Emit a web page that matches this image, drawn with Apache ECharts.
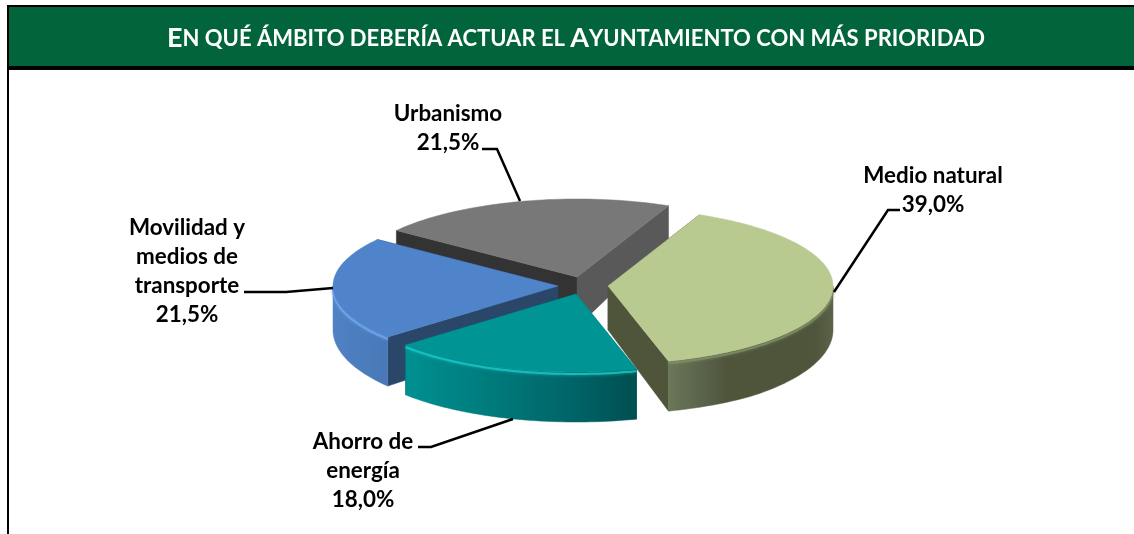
<!DOCTYPE html>
<html><head><meta charset="utf-8">
<style>html,body{margin:0;padding:0;background:#fff}#c{width:1134px;height:534px}</style>
<script src="https://cdn.jsdelivr.net/npm/echarts@6/dist/echarts.min.js"></script>
</head><body><div id="c"></div>
<script>
// Data
const categories = ['Medio natural', 'Ahorro de\nenergía', 'Movilidad y\nmedios de\ntransporte', 'Urbanismo'];
const shares = [39.0, 18.0, 21.5, 21.5];
const titleHead = 'E', titleRest1 = 'N QUÉ ÁMBITO DEBERÍA ACTUAR EL ', titleHead2 = 'A', titleRest2 = 'YUNTAMIENTO CON MÁS PRIORIDAD';

// Layout and style (not data)
const FONT = 'Lato, Carlito, "Open Sans", sans-serif';
const START = 24, RX = 225, RY = 78;
const apexes = [[608, 286], [576, 294], [558, 286], [577, 277]];
const drawOrder = [2, 3, 1, 0];
const depthA = [[36, .1], [36, .1], [36, .1], [34, .229]];
const topCols = ['#b9ca91', '#009494', '#4f84cb', '#787878'];
const wallGrad = [
  [[0, '#6b7757'], [.22, '#59624a'], [.35, '#4e553b'], [.88, '#4e553b'], [1, '#5a6248']],
  [[0, '#009090'], [.4, '#00797a'], [.75, '#006266'], [1, '#004f50']],
  [[0, '#4f82c4'], [1, '#4878b6']],
  [[0, '#595959'], [1, '#595959']]
];
const faceCols = [['#4e553b', '#4e553b'], ['#00797a', '#004f50'], ['#2a4669', '#2a4669'], ['#333333', '#595959']];
const glow = ['#7f8c64', '#19c4c4', '#6fa6ee', '#787878'];
const labelPos = [[933, 175], [363, 441], [187, 227], [448, 113]];
const leaders = [
  [[900, 210], [888, 210], [834, 292]],
  [[418, 447], [431, 447], [513, 419]],
  [[244, 292], [286, 292], [333, 288]],
  [[482, 149], [497, 149], [520, 201]]
];
const rad = d => d * Math.PI / 180;
const fmt = v => v.toFixed(1).replace('.', ',') + '%';

function sliceAngles(i) {
  const total = shares.reduce((a, b) => a + b, 0);
  let s = START;
  for (let k = 0; k < i; k++) s += shares[k] / total * 360;
  return [s, s + shares[i] / total * 360];
}
function rim(c, a) { return [c[0] + RX * Math.sin(rad(a)), c[1] - RY * Math.cos(rad(a))]; }
function arc(c, a, b) {
  const out = [], n = Math.max(2, Math.ceil(Math.abs(b - a) / 1.5));
  for (let k = 0; k <= n; k++) out.push(rim(c, a + (b - a) * k / n));
  return out;
}
function renderSlice(params, api) {
  const i = params.dataIndex;
  const [a0, a1] = sliceAngles(i);
  const c = apexes[i], z = drawOrder[i] * 10;
  const d = y => Math.min(50, depthA[i][0] + depthA[i][1] * (y - 206));
  const drop = p => [p[0], p[1] + d(p[1])];
  const kids = [];
  const poly = (points, fill, k) => kids.push({
    type: 'polygon', silent: true, z2: z + k, shape: { points },
    style: { fill, stroke: fill, lineWidth: .5 }
  });
  // Radial faces
  const pA = rim(c, a0), pB = rim(c, a1);
  poly([c, pA, drop(pA), drop(c)], faceCols[i][0], 1);
  poly([c, pB, drop(pB), drop(c)], faceCols[i][1], 1);
  // Outer wall: the part of the rim on the near side
  const f0 = Math.max(a0, 90), f1 = Math.min(a1, 270);
  if (f1 > f0) {
    const top = arc(c, f0, f1);
    const stops = wallGrad[i].map(s => ({ offset: s[0], color: s[1] }));
    const grad = new echarts.graphic.LinearGradient(0, 0, 1, 0, stops);
    poly(top.concat(top.map(drop).reverse()), grad, 2);
    kids.push({
      type: 'polyline', silent: true, z2: z + 3,
      shape: { points: top.map(p => [p[0], p[1] + 2]) },
      style: { fill: null, stroke: glow[i], lineWidth: 2, shadowBlur: 3, shadowColor: glow[i], opacity: .85 }
    });
  }
  // Top surface
  poly([c].concat(arc(c, a0, a1)), topCols[i], 4);
  // Leader line and label
  kids.push({
    type: 'polyline', silent: true, z2: 90,
    shape: { points: leaders[i] },
    style: { fill: null, stroke: '#000', lineWidth: 2.5 }
  });
  kids.push({
    type: 'text', silent: true, z2: 95, x: labelPos[i][0], y: labelPos[i][1] - 14,
    style: {
      text: categories[i] + '\n' + fmt(api.value(0)), fill: '#000', align: 'center', verticalAlign: 'top',
      font: 'bold 22.4px ' + FONT, lineHeight: 29
    }
  });
  return { type: 'group', children: kids };
}

const chart = echarts.init(document.getElementById('c'), null, { renderer: 'canvas' });
chart.setOption({
  animation: false,
  backgroundColor: '#ffffff',
  graphic: [
    { type: 'rect', silent: true, z: 1, shape: { x: 7, y: 5, width: 1127, height: 65 }, style: { fill: '#000' } },
    { type: 'rect', silent: true, z: 2, shape: { x: 9, y: 7, width: 1125, height: 59 }, style: { fill: '#02643a' } },
    { type: 'rect', silent: true, z: 1, shape: { x: 7, y: 68, width: 2, height: 466 }, style: { fill: '#000' } }
  ],
  title: {
    text: `{a|${titleHead}}{b|${titleRest1}}{a|${titleHead2}}{b|${titleRest2}}`,
    left: 571, top: 20, textAlign: 'center', z: 10,
    textStyle: {
      rich: {
        a: { fontFamily: FONT, fontWeight: 'bold', fontSize: 27, color: '#fff' },
        b: { fontFamily: FONT, fontWeight: 'bold', fontSize: 22, color: '#fff' }
      }
    }
  },
  series: [{
    type: 'custom',
    coordinateSystem: 'none',
    silent: true,
    renderItem: renderSlice,
    data: shares.map(v => [v]),
    z: 5
  }]
});
</script></body></html>
